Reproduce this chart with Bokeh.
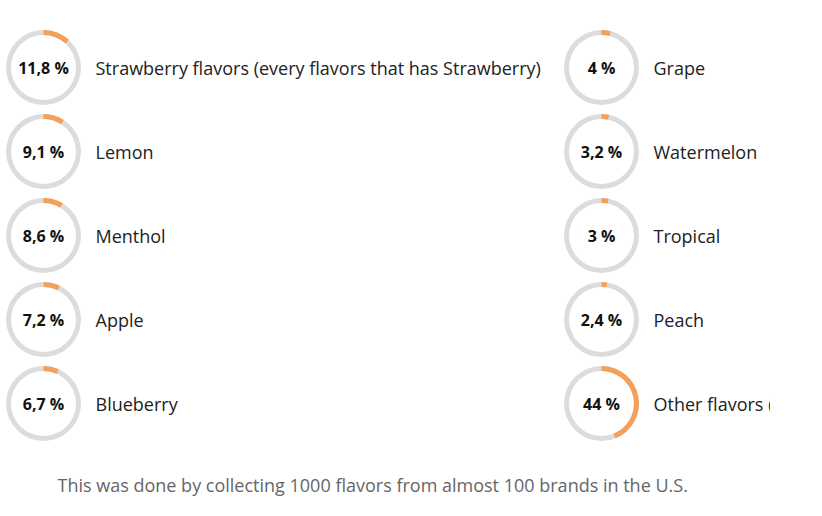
import math
from bokeh.plotting import figure
from bokeh.models import ColumnDataSource, Range1d
from bokeh.core.properties import value
from bokeh.embed import file_html
from bokeh.resources import INLINE

labels = [
    "Strawberry flavors (every flavors that has Strawberry)",
    "Lemon", "Menthol", "Apple", "Blueberry",
    "Grape", "Watermelon", "Tropical", "Peach", "Other flavors (",
]
values = [11.8, 9.1, 8.6, 7.2, 6.7, 4.0, 3.2, 3.0, 2.4, 44.0]
pct_text = ["11,8 %", "9,1 %", "8,6 %", "7,2 %", "6,7 %", "4 %", "3,2 %", "3 %", "2,4 %", "44 %"]
footer = "This was done by collecting 1000 flavors from almost 100 brands in the U.S."

W, H = 770, 508
col_x = [43, 601]
row_top = 67
row_step = 84

xs, ys, lx, ends = [], [], [], []
for i, v in enumerate(values):
    c, r = divmod(i, 5)
    xs.append(col_x[c])
    ys.append(H - (row_top + r * row_step))
    lx.append(col_x[c] + 52)
    ends.append(math.pi / 2 - 2 * math.pi * v / 100.0)

src = ColumnDataSource(dict(x=xs, y=ys, lx=lx, end=ends, label=labels, pct=pct_text,
                            start=[math.pi / 2] * len(values)))

p = figure(width=W, height=H, output_backend="svg", toolbar_location=None,
           x_range=Range1d(0, W), y_range=Range1d(0, H), min_border=0)
p.axis.visible = False
p.grid.visible = False
p.outline_line_color = None
p.background_fill_color = "white"
p.border_fill_color = "white"

p.annulus(x="x", y="y", inner_radius=32.5, outer_radius=37.5, fill_color="#dcdcdc",
          line_color=None, source=src)
p.annular_wedge(x="x", y="y", inner_radius=32.5, outer_radius=37.5, start_angle="start",
                end_angle="end", direction="clock", fill_color="#f4a05b", line_color=None,
                source=src)
p.text(x="x", y="y", text="pct", text_align="center", text_baseline="middle",
       text_font=value("Open Sans"), text_font_style="bold", text_font_size="16px",
       text_color="#111111", source=src)
p.text(x="lx", y="y", text="label", text_align="left", text_baseline="middle",
       text_font=value("Open Sans"), text_font_size="18px", text_color="#222222", source=src)
p.text(x=[57], y=[H - 484], text=[footer], text_align="left", text_baseline="middle",
       text_font=value("Open Sans"), text_font_size="18px", text_color="#666666")

open("out.html", "w").write(file_html(p, INLINE))
